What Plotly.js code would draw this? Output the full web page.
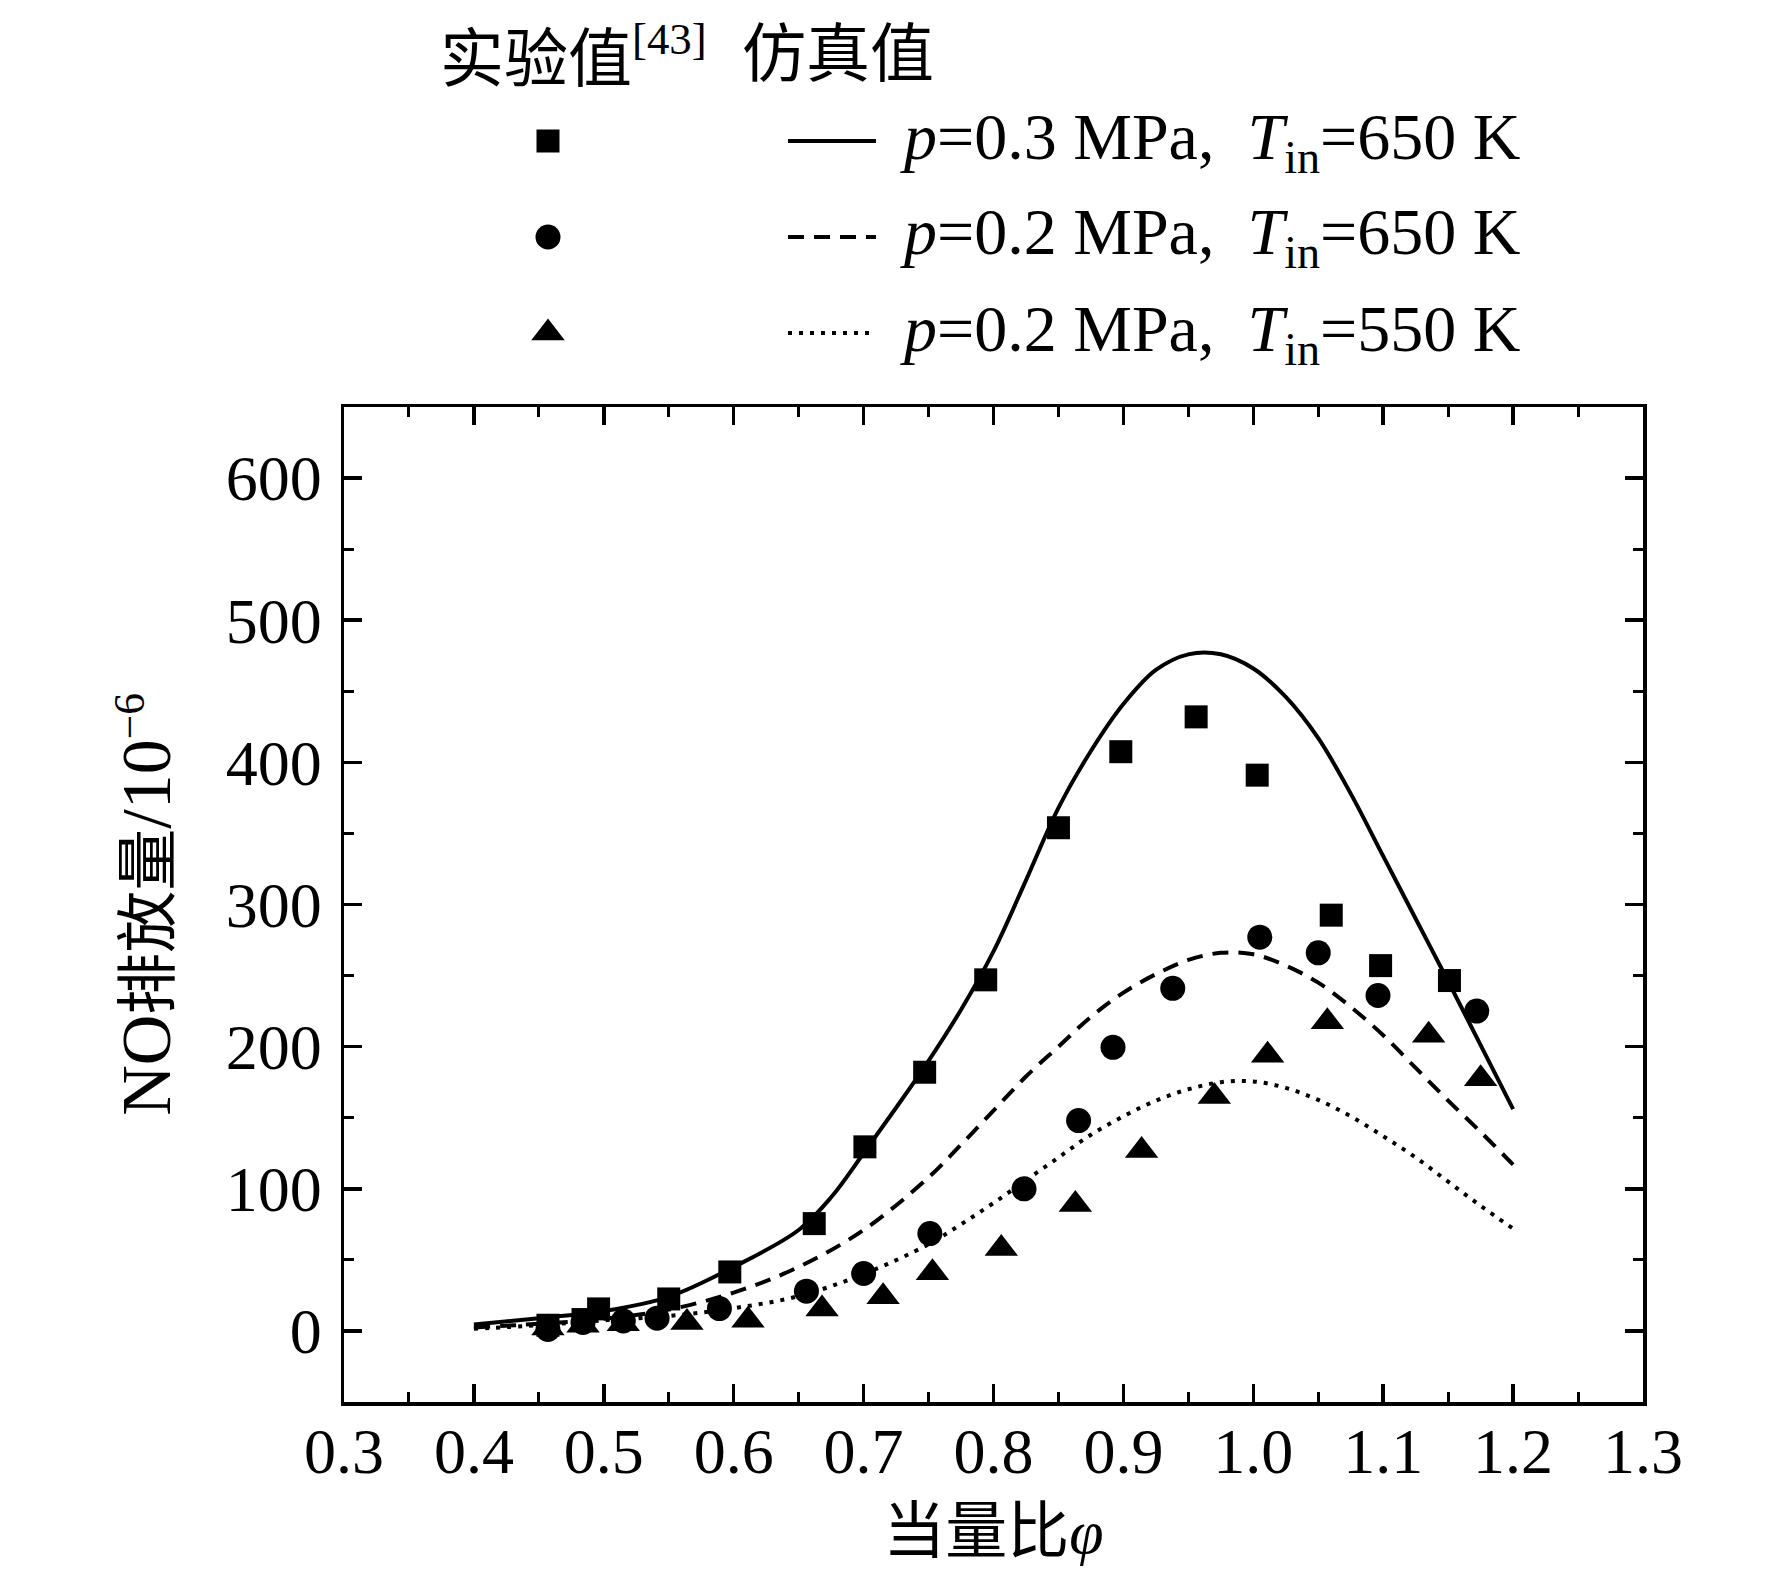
<!DOCTYPE html>
<html>
<head>
<meta charset="utf-8">
<script src="https://cdn.plot.ly/plotly-3.0.1.min.js"></script>
<style>html,body{margin:0;padding:0;background:#fff;}</style>
</head>
<body>
<div id="chart" style="width:1772px;height:1579px;"></div>
<script>
// ---- Data ----
// Experimental values [43]
const sqPhi = [0.457, 0.484, 0.496, 0.550, 0.597, 0.662, 0.701, 0.747, 0.794, 0.850, 0.898, 0.956, 1.003, 1.060, 1.098, 1.151];
const sqNO  = [4, 8, 15.5, 22.5, 41.5, 75.5, 129.5, 182, 247, 354, 407.5, 432, 391, 292.5, 257, 246.5];
const ciPhi = [0.457, 0.484, 0.515, 0.541, 0.589, 0.656, 0.700, 0.751, 0.8235, 0.8655, 0.892, 0.938, 1.005, 1.050, 1.096, 1.172];
const ciNO  = [1, 6, 7, 9, 15.7, 28, 40.4, 68.5, 100, 148, 199.5, 241, 277, 266, 236, 225];
const trPhi = [0.457, 0.484, 0.515, 0.564, 0.611, 0.668, 0.715, 0.753, 0.806, 0.863, 0.914, 0.970, 1.011, 1.057, 1.135, 1.175];
const trNO  = [2, 4, 5, 6, 7.5, 15.5, 24, 41, 58, 89, 127, 165, 194, 217.5, 208, 177.5];
// Simulated values
const simPhiA = [0.40, 0.45, 0.50, 0.55, 0.60, 0.65, 0.675, 0.70, 0.725, 0.75, 0.775, 0.80, 0.825, 0.85, 0.875, 0.90, 0.925, 0.95, 0.975, 1.00, 1.025, 1.05, 1.075, 1.10, 1.125, 1.15, 1.175, 1.20];
const simA    = [4.5, 9, 14, 24, 45, 71, 94, 125, 157, 190, 226, 267, 317, 368, 408, 441, 465, 476, 476, 466, 446, 417, 378, 334, 290, 246, 201, 156];
const simPhiB = [0.40, 0.45, 0.50, 0.55, 0.60, 0.65, 0.70, 0.75, 0.775, 0.80, 0.825, 0.85, 0.875, 0.90, 0.925, 0.95, 0.975, 1.00, 1.025, 1.05, 1.075, 1.10, 1.125, 1.15, 1.175, 1.20];
const simB    = [2.5, 5, 8.5, 15, 27, 45, 71, 108, 131, 155, 179, 200, 221, 238, 251, 261, 266, 265, 257, 245, 228, 208, 185, 162, 140, 117];
const simPhiC = [0.40, 0.45, 0.50, 0.55, 0.60, 0.65, 0.70, 0.75, 0.775, 0.80, 0.825, 0.85, 0.875, 0.90, 0.925, 0.95, 0.975, 1.00, 1.025, 1.05, 1.075, 1.10, 1.125, 1.15, 1.175, 1.20];
const simC    = [1.5, 4, 7.5, 10.5, 16, 24.5, 40, 61, 75, 90, 106, 122, 138, 151, 162, 170, 175, 175.5, 171, 162.5, 151, 137, 122, 105, 88, 72];
// Labels
const headerExp = '实验值<sup>[43]</sup>';
const headerSim = '仿真值';
const seriesLabels = [
  '<i>p</i>=0.3 MPa,&nbsp;&nbsp;<i>T</i><sub>in</sub>=650 K',
  '<i>p</i>=0.2 MPa,&nbsp;&nbsp;<i>T</i><sub>in</sub>=650 K',
  '<i>p</i>=0.2 MPa,&nbsp;&nbsp;<i>T</i><sub>in</sub>=550 K'
];
const xTitle = '当量比<i>φ</i>';
const yTitle = '<span style="font-size:70px">NO</span>排放量<span style="font-size:70px">/10</span><sup>−6</sup>';

// ---- Geometry ----
const W = 1772, H = 1579;
const L = 344, R = 1643, T = 407, B = 1402;
const FONT = 'Liberation Serif, Noto Sans CJK SC, serif';

const sqMarker = {symbol: 'square', size: 23, color: '#000'};
const ciMarker = {symbol: 'circle', size: 25, color: '#000'};
const trMarker = {symbol: 'triangle-up', size: 29, color: '#000'};
const lineA = {color: '#000', width: 4, dash: 'solid'};
const lineB = {color: '#000', width: 4, dash: '16px,10px'};
const lineC = {color: '#000', width: 4, dash: '4px,7px'};

const traces = [
  {x: simPhiA, y: simA, mode: 'lines', line: Object.assign({shape: 'spline', smoothing: 1}, lineA), showlegend: false, hoverinfo: 'skip'},
  {x: simPhiB, y: simB, mode: 'lines', line: Object.assign({shape: 'spline', smoothing: 1}, lineB), showlegend: false, hoverinfo: 'skip'},
  {x: simPhiC, y: simC, mode: 'lines', line: Object.assign({shape: 'spline', smoothing: 1}, lineC), showlegend: false, hoverinfo: 'skip'},
  {x: sqPhi, y: sqNO, mode: 'markers', marker: sqMarker, showlegend: false},
  {x: ciPhi, y: ciNO, mode: 'markers', marker: ciMarker, showlegend: false},
  {x: trPhi, y: trNO, mode: 'markers', marker: trMarker, showlegend: false}
];

// custom legend (pixel coordinates on a hidden overlay axis)
const legRows = [141, 237, 333];
const legMarkX = 548, legLineX0 = 788, legLineX1 = 876, legTextX = 898;
const legMarkers = [sqMarker, ciMarker, trMarker];
const legLines = [lineA, lineB, lineC];
for (let i = 0; i < 3; i++) {
  traces.push({x: [legMarkX], y: [legRows[i]], xaxis: 'x2', yaxis: 'y2', mode: 'markers', marker: legMarkers[i], showlegend: false, hoverinfo: 'skip'});
  traces.push({x: [legLineX0, legLineX1], y: [legRows[i], legRows[i]], xaxis: 'x2', yaxis: 'y2', mode: 'lines', line: legLines[i], showlegend: false, hoverinfo: 'skip'});
}

const annotations = [
  {text: headerExp, x: 438 / W, y: 1 - 54 / H, xref: 'paper', yref: 'paper', xanchor: 'left', yanchor: 'middle', showarrow: false, font: {family: FONT, size: 64, color: '#000'}},
  {text: headerSim, x: 740 / W, y: 1 - 54 / H, xref: 'paper', yref: 'paper', xanchor: 'left', yanchor: 'middle', showarrow: false, font: {family: FONT, size: 64, color: '#000'}}
];
for (let i = 0; i < 3; i++) {
  annotations.push({text: seriesLabels[i], x: legTextX / W, y: 1 - legRows[i] / H, xref: 'paper', yref: 'paper', xanchor: 'left', yanchor: 'middle', showarrow: false, font: {family: FONT, size: 66, color: '#000'}});
}

const axisCommon = {
  showline: true, linewidth: 3.5, linecolor: '#000', mirror: 'allticks',
  ticks: 'inside', ticklen: 18, tickwidth: 3.5, tickcolor: '#000',
  showgrid: false, zeroline: false,
  tickfont: {family: FONT, size: 64, color: '#000'}
};

const layout = {
  width: W, height: H,
  margin: {l: 0, r: 0, t: 0, b: 0},
  paper_bgcolor: '#fff', plot_bgcolor: 'rgba(0,0,0,0)',
  showlegend: false,
  xaxis: Object.assign({}, axisCommon, {
    domain: [L / W, R / W], range: [0.3, 1.3], tick0: 0.3, dtick: 0.1, tickformat: '.1f',
    ticklabelstandoff: -9,
    minor: {dtick: 0.05, ticks: 'inside', ticklen: 10, tickwidth: 3, tickcolor: '#000', showgrid: false},
    title: {text: xTitle, font: {family: FONT, size: 62, color: '#000'}, standoff: 24},
    anchor: 'y'
  }),
  yaxis: Object.assign({}, axisCommon, {
    domain: [1 - B / H, 1 - T / H], range: [-50, 650], tick0: 0, dtick: 100,
    ticklabelstandoff: 6,
    minor: {dtick: 50, ticks: 'inside', ticklen: 10, tickwidth: 3, tickcolor: '#000', showgrid: false},
    title: {text: yTitle, font: {family: FONT, size: 62, color: '#000'}, standoff: 36},
    anchor: 'x'
  }),
  xaxis2: {domain: [0, 1], range: [0, W], visible: false, anchor: 'y2', fixedrange: true},
  yaxis2: {domain: [0, 1], range: [H, 0], visible: false, anchor: 'x2', fixedrange: true},
  annotations: annotations
};

Plotly.newPlot('chart', traces, layout, {staticPlot: true, displayModeBar: false});
</script>
</body>
</html>
